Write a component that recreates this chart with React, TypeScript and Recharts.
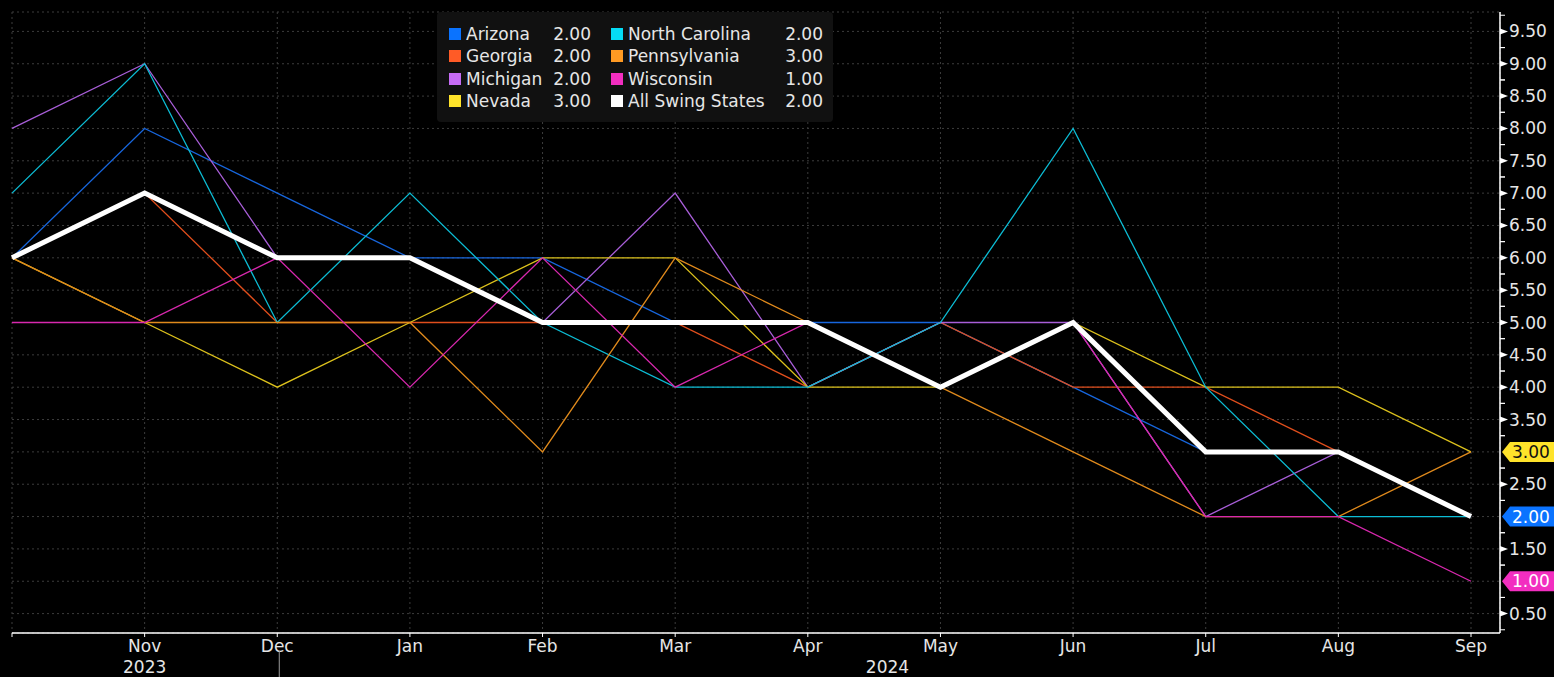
import React from 'react';
import { LineChart, Line, XAxis, YAxis, CartesianGrid, Legend } from 'recharts';

// Monthly ranking values, Oct 2023 - Sep 2024
const months = ['Oct', 'Nov', 'Dec', 'Jan', 'Feb', 'Mar', 'Apr', 'May', 'Jun', 'Jul', 'Aug', 'Sep'];
const arizona = [6, 8, 7, 6, 6, 5, 5, 5, 4, 3, 3, 2];
const georgia = [6, 7, 5, 5, 5, 5, 4, 5, 4, 4, 3, 2];
const michigan = [8, 9, 6, 6, 5, 7, 4, 5, 5, 2, 3, 2];
const nevada = [6, 5, 4, 5, 6, 6, 4, 4, 5, 4, 4, 3];
const northCarolina = [7, 9, 5, 7, 5, 4, 4, 5, 8, 4, 2, 2];
const pennsylvania = [6, 5, 5, 5, 3, 6, 5, 4, 3, 2, 2, 3];
const wisconsin = [5, 5, 6, 4, 6, 4, 5, 4, 5, 2, 2, 1];
const allSwingStates = [6, 7, 6, 6, 5, 5, 5, 4, 5, 3, 3, 2];

const yTicks = [0.5, 1, 1.5, 2, 2.5, 3, 3.5, 4, 4.5, 5, 5.5, 6, 6.5, 7, 7.5, 8, 8.5, 9, 9.5];
const yearLabels: Record<string, { label: string; shift: number }> = {
  Nov: { label: '2023', shift: 0 },
  May: { label: '2024', shift: -53 },
};

const series = [
  { key: 'arizona', name: 'Arizona', values: arizona, color: '#0a73ff', line: '#1766dd' },
  { key: 'georgia', name: 'Georgia', values: georgia, color: '#ff5b26', line: '#e04e1c' },
  { key: 'michigan', name: 'Michigan', values: michigan, color: '#c66cf5', line: '#a85ed8' },
  { key: 'nevada', name: 'Nevada', values: nevada, color: '#ffe32a', line: '#dcc11c' },
  { key: 'northCarolina', name: 'North Carolina', values: northCarolina, color: '#05dcf5', line: '#0cbcd4' },
  { key: 'pennsylvania', name: 'Pennsylvania', values: pennsylvania, color: '#ff9a23', line: '#e08a1c' },
  { key: 'wisconsin', name: 'Wisconsin', values: wisconsin, color: '#f22ec0', line: '#d828ae' },
  { key: 'all', name: 'All Swing States', values: allSwingStates, color: '#ffffff', line: '#ffffff' },
];

const data = months.map((month, i) => {
  const row: Record<string, string | number> = { month };
  series.forEach((s) => {
    row[s.key] = s.values[i];
  });
  return row;
});

// last-value badges on the right axis (first series holding each value wins)
const badges: { value: number; color: string; text: string }[] = [];
series.slice(0, 7).forEach((s) => {
  const last = s.values[s.values.length - 1];
  if (!badges.find((b) => b.value === last)) {
    badges.push({ value: last, color: s.color, text: s.key === 'nevada' ? '#111' : '#fff' });
  }
});

const FONT = '"DejaVu Sans", Verdana, sans-serif';
const WIDTH = 1554;
const HEIGHT = 677;
const Y_DOMAIN: [number, number] = [0.2, 9.8];
const PLOT_TOP = 12;
const PLOT_BOTTOM = 633;
const QUARTER_PX = ((PLOT_BOTTOM - PLOT_TOP) / (Y_DOMAIN[1] - Y_DOMAIN[0])) * 0.25;

const YTick = (props: any) => {
  const { x, y, payload } = props;
  const v = payload.value as number;
  const badge = badges.find((b) => b.value === v);
  return (
    <g>
      <line x1={x} y1={y - QUARTER_PX} x2={x + 5} y2={y - QUARTER_PX} stroke="#fff" strokeWidth={1} />
      <line x1={x} y1={y + QUARTER_PX} x2={x + 5} y2={y + QUARTER_PX} stroke="#fff" strokeWidth={1} />
      {badge ? (
        <g>
          <path
            d={`M${x + 2},${y} L${x + 10},${y - 10} L${x + 54},${y - 10} L${x + 54},${y + 10} L${x + 10},${y + 10} Z`}
            fill={badge.color}
          />
          <text x={x + 12} y={y} dy={6} fill={badge.text} fontSize={17} fontFamily={FONT}>
            {v.toFixed(2)}
          </text>
        </g>
      ) : (
        <g>
          <path d={`M${x},${y - 3} L${x + 8},${y} L${x},${y + 3} Z`} fill="#fff" />
          <text x={x + 9} y={y} dy={6} fill="#e6e6e6" fontSize={17} fontFamily={FONT}>
            {v.toFixed(2)}
          </text>
        </g>
      )}
    </g>
  );
};

const XTick = (props: any) => {
  const { x, y, payload } = props;
  const m = payload.value as string;
  const year = yearLabels[m];
  return (
    <g>
      {m !== 'Oct' && (
        <text x={x} y={y} dy={13} textAnchor="middle" fill="#e6e6e6" fontSize={17} fontFamily={FONT}>
          {m}
        </text>
      )}
      {year && (
        <text x={x + year.shift} y={y} dy={34} textAnchor="middle" fill="#e6e6e6" fontSize={17} fontFamily={FONT}>
          {year.label}
        </text>
      )}
      {m === 'Dec' && <line x1={x + 2} y1={y + 12} x2={x + 2} y2={y + 50} stroke="#9a9a9a" strokeWidth={1} />}
    </g>
  );
};

const renderLegend = () => (
  <div
    style={{
      width: 396,
      height: 110,
      boxSizing: 'border-box',
      background: '#111111',
      borderRadius: 4,
      paddingTop: 11,
      paddingLeft: 12,
      display: 'grid',
      gridTemplateColumns: '142px 212px',
      gridTemplateRows: 'repeat(4, 22.3px)',
      gridAutoFlow: 'column',
      columnGap: 20,
      fontFamily: FONT,
      fontSize: 17,
      color: '#e6e6e6',
    }}
  >
    {series.map((s) => (
      <div key={s.key} style={{ display: 'flex', alignItems: 'center', lineHeight: '22px', whiteSpace: 'nowrap' }}>
        <span style={{ width: 12, height: 12, background: s.color, marginRight: 5, flex: 'none' }} />
        <span style={{ flex: 1 }}>{s.name}</span>
        <span>{s.values[s.values.length - 1].toFixed(2)}</span>
      </div>
    ))}
  </div>
);

export default function App() {
  return (
    <div style={{ position: 'absolute', left: 0, top: 0, width: WIDTH, height: HEIGHT, background: '#000', overflow: 'hidden' }}>
      <LineChart width={WIDTH} height={HEIGHT} data={data} margin={{ top: PLOT_TOP, right: 0, bottom: 0, left: 12 }}>
        <CartesianGrid stroke="#3c3c3c" strokeDasharray="2 3" />
        <XAxis
          dataKey="month"
          height={HEIGHT - PLOT_BOTTOM}
          padding={{ left: 0, right: 29 }}
          interval={0}
          axisLine={{ stroke: '#fff', strokeWidth: 1.5 }}
          tickLine={{ stroke: '#fff' }}
          tickSize={4}
          tickMargin={2}
          tick={<XTick />}
        />
        <YAxis
          orientation="right"
          width={54}
          domain={Y_DOMAIN}
          ticks={yTicks}
          type="number"
          allowDataOverflow
          axisLine={{ stroke: '#fff', strokeWidth: 1.5 }}
          tickLine={false}
          tickSize={0}
          tickMargin={0}
          tick={<YTick />}
        />
        <Legend
          layout="horizontal"
          verticalAlign="middle"
          align="center"
          content={renderLegend}
          wrapperStyle={{ position: 'absolute', left: 437, top: 12, width: 396, height: 110 }}
        />
        {series.map((s) => (
          <Line
            key={s.key}
            dataKey={s.key}
            name={s.name}
            type="linear"
            stroke={s.line}
            strokeWidth={s.key === 'all' ? 5 : 1.3}
            dot={false}
            activeDot={false}
            isAnimationActive={false}
          />
        ))}
      </LineChart>
    </div>
  );
}
